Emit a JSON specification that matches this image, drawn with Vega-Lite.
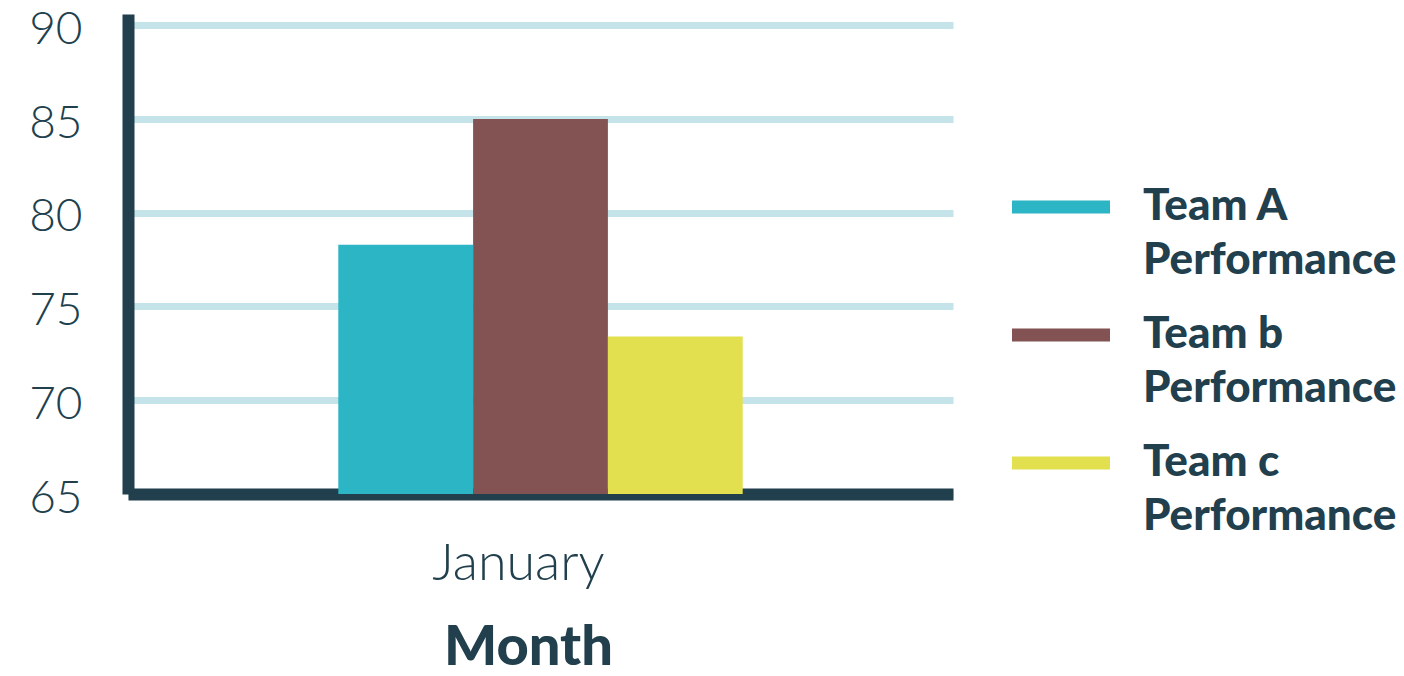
{
  "$schema": "https://vega.github.io/schema/vega-lite/v6.json",
  "width": 825,
  "height": 480,
  "autosize": {"type": "none"},
  "padding": {"left": 128, "top": 14, "right": 451, "bottom": 182},
  "background": "white",
  "data": {
    "values": [
      {"month": "January", "team": "Team A Performance", "value": 78.3},
      {"month": "January", "team": "Team b Performance", "value": 85},
      {"month": "January", "team": "Team c Performance", "value": 73.4}
    ]
  },
  "mark": {"type": "bar", "clip": true},
  "encoding": {
    "x": {
      "field": "month",
      "type": "nominal",
      "title": "Month",
      "scale": {"paddingInner": 0, "paddingOuter": 0.52},
      "axis": {
        "labelAngle": 0,
        "labelFont": "Lato",
        "labelFontWeight": 300,
        "labelFontSize": 52,
        "labelColor": "#213f4d",
        "labelPadding": 44,
        "labelOffset": -22,
        "ticks": false,
        "domainWidth": 12,
        "domainColor": "#213f4d",
        "titleFont": "Lato",
        "titleFontWeight": 900,
        "titleFontSize": 56,
        "titleColor": "#213f4d",
        "titleX": 400,
        "titleY": 170,
        "titleAlign": "center",
        "titleBaseline": "alphabetic",
        "grid": false
      }
    },
    "xOffset": {
      "field": "team",
      "type": "nominal",
      "scale": {"paddingInner": 0, "paddingOuter": 0}
    },
    "y": {
      "field": "value",
      "type": "quantitative",
      "title": null,
      "scale": {"domain": [65, 90.6], "zero": false, "nice": false},
      "axis": {
        "values": [65, 70, 75, 80, 85, 90],
        "labelFont": "Lato",
        "labelFontWeight": 300,
        "labelFontSize": 46,
        "labelColor": "#213f4d",
        "labelPadding": 46,
        "labelOffset": 4,
        "ticks": false,
        "domainWidth": 12,
        "domainColor": "#213f4d",
        "gridColor": "#c5e4ea",
        "gridWidth": 7,
        "grid": true
      }
    },
    "color": {
      "field": "team",
      "type": "nominal",
      "title": null,
      "scale": {
        "domain": ["Team A Performance", "Team b Performance", "Team c Performance"],
        "range": ["#2cb5c4", "#835353", "#e2e04f"]
      },
      "legend": {
        "orient": "none",
        "legendX": 884,
        "legendY": 144,
        "symbolType": "M-1,-0.133H1V0.133H-1Z",
        "symbolSize": 9604,
        "symbolStrokeWidth": 0,
        "labelExpr": "[replace(datum.label, ' Performance', ''), 'Performance']",
        "labelFont": "Lato",
        "labelFontWeight": 900,
        "labelFontSize": 44,
        "labelColor": "#213f4d",
        "labelLimit": 400,
        "labelOffset": 33,
        "labelBaseline": "middle",
        "rowPadding": 3,
        "padding": 0,
        "encode": {"labels": {"update": {"lineHeight": {"value": 54}}}}
      }
    }
  },
  "config": {
    "view": {"stroke": null},
    "axis": {"gridCap": "butt"}
  }
}
